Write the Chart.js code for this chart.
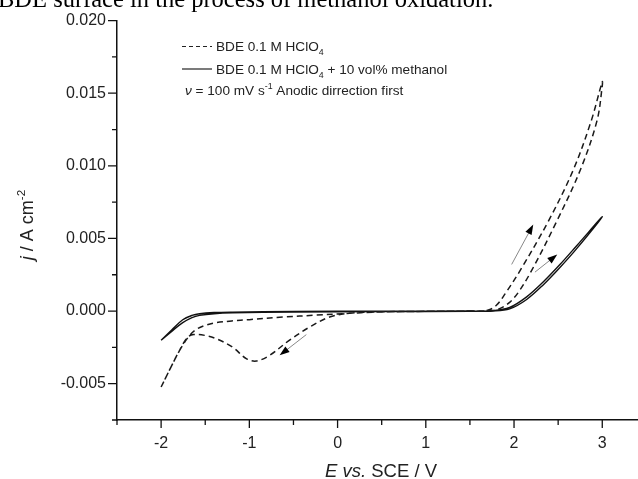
<!DOCTYPE html>
<html>
<head>
<meta charset="utf-8">
<script src="https://cdn.jsdelivr.net/npm/chart.js@4.4.1/dist/chart.umd.min.js"></script>
<style>
  body { margin: 0; background: #fff; }
  canvas { display: block; }
</style>
</head>
<body>
<canvas id="cvChart" width="638" height="479"></canvas>
<script>
// cyclic voltammograms, E in V vs SCE, j in A cm-2
var dashedE = [-2.0, -1.9, -1.79, -1.68, -1.6, -1.5, -1.376, -1.2, -1.0, -0.62, -0.24, 0.14, 0.5, 1.0, 1.5, 1.7, 1.8, 1.9, 2.07, 2.39, 2.67, 2.875, 3.0,
               3.0, 2.94, 2.75, 2.485, 2.2, 2.05, 1.95, 1.85, 1.75, 1.5, 1.0, 0.5, 0.14, -0.09, -0.317, -0.544, -0.771, -0.922, -1.035, -1.191, -1.376, -1.5, -1.63, -1.7, -1.79, -1.9, -2.0];
var dashedJ = [-0.00523, -0.0040, -0.0027, -0.0017, -0.00125, -0.00098, -0.0008, -0.00068, -0.00059, -0.00041, -0.00028, -0.00015, -0.00006, -0.00002, 0.0, 0.00005, 0.0004, 0.0012, 0.0028, 0.0062, 0.0097, 0.0131, 0.0158,
               0.0155, 0.0131, 0.0097, 0.0062, 0.0028, 0.0013, 0.0006, 0.0002, 0.00003, 0.0, -0.00002, -0.00005, -0.00014, -0.00041, -0.0011, -0.0020, -0.00305, -0.00344, -0.00327, -0.00248, -0.0019, -0.00168, -0.00162, -0.0018, -0.0027, -0.0040, -0.00523];

var solidE = [-2.0, -1.88, -1.755, -1.65, -1.565, -1.4, -1.19, -0.5, 0.5, 1.5, 1.76, 1.95, 2.143, 2.33, 2.52, 2.71, 3.0,
              2.71, 2.52, 2.33, 2.143, 1.95, 1.76, 1.5, 0.5, -0.5, -1.19, -1.4, -1.565, -1.65, -1.755, -1.88, -2.0];
var solidJ = [-0.00201, -0.0013, -0.0006, -0.0003, -0.00018, -0.0001, -0.00007, -0.00003, -0.00001, 0.0, 0.00003, 0.00025, 0.00098, 0.0020, 0.0032, 0.0045, 0.0065,
              0.0043, 0.0030, 0.0018, 0.0008, 0.00015, 0.0, -0.00002, -0.00004, -0.00006, -0.00012, -0.00018, -0.0003, -0.00045, -0.0008, -0.0014, -0.00201];

// scan direction arrows
var arrowFromE = [-0.354, 1.973, 2.237];
var arrowFromJ = [-0.00162, 0.00321, 0.00268];
var arrowToE = [-0.657, 2.218, 2.49];
var arrowToJ = [-0.00305, 0.00596, 0.0039];

var xMajor = [-2, -1, 0, 1, 2, 3];
var xMinor = [-2.5, -1.5, -0.5, 0.5, 1.5, 2.5];
var yMajor = [-0.005, 0, 0.005, 0.010, 0.015, 0.020];
var yMinor = [-0.0075, -0.0025, 0.0025, 0.0075, 0.0125, 0.0175];

var caption = 'BDE surface in the process of methanol oxidation.';
var legendLines = [
    [['BDE 0.1 M HClO', 'n'], ['4', 'sub']],
    [['BDE 0.1 M HClO', 'n'], ['4', 'sub'], [' + 10 vol% methanol', 'n']],
    [['\u03bd', 'i'], [' = 100 mV s', 'n'], ['-1', 'sup'], [' Anodic dirrection first', 'n']]
];
var xTitle = [['E', 'i'], [' vs.', 'i'], [' SCE / V', 'n']];
var yTitle = [['j', 'i'], [' / A cm', 'n'], ['-2', 'sup']];

function toPoints(xs, ys) {
    return xs.map(function (x, i) { return { x: x, y: ys[i] }; });
}

function segFont(style, size) {
    var s = (style === 'sub' || style === 'sup') ? size * 0.65 : size;
    return (style === 'i' ? 'italic ' : '') + s + 'px "Liberation Sans"';
}

function richWidth(ctx, segs, size) {
    var w = 0;
    segs.forEach(function (sg) { ctx.font = segFont(sg[1], size); w += ctx.measureText(sg[0]).width; });
    return w;
}

function drawRich(ctx, segs, x, y, size) {
    ctx.textBaseline = 'alphabetic';
    ctx.textAlign = 'left';
    segs.forEach(function (sg) {
        ctx.font = segFont(sg[1], size);
        var dy = sg[1] === 'sub' ? size * 0.3 : (sg[1] === 'sup' ? -size * 0.45 : 0);
        ctx.fillText(sg[0], x, y + dy);
        x += ctx.measureText(sg[0]).width;
    });
}

var decorations = {
    id: 'decorations',
    afterDraw: function (chart) {
        var ctx = chart.ctx, xs = chart.scales.x, ys = chart.scales.y, area = chart.chartArea;
        ctx.save();
        ctx.strokeStyle = '#111';
        ctx.fillStyle = '#111';
        ctx.lineWidth = 1.3;

        // tick marks, outward
        ctx.beginPath();
        xMajor.forEach(function (v) { var p = xs.getPixelForValue(v); ctx.moveTo(p, area.bottom); ctx.lineTo(p, area.bottom + 8); });
        xMinor.forEach(function (v) { var p = xs.getPixelForValue(v); ctx.moveTo(p, area.bottom); ctx.lineTo(p, area.bottom + 5); });
        yMajor.forEach(function (v) { var p = ys.getPixelForValue(v); ctx.moveTo(area.left, p); ctx.lineTo(area.left - 9, p); });
        yMinor.forEach(function (v) { var p = ys.getPixelForValue(v); ctx.moveTo(area.left, p); ctx.lineTo(area.left - 5, p); });
        ctx.stroke();

        // arrows
        for (var i = 0; i < arrowFromE.length; i++) {
            var x0 = xs.getPixelForValue(arrowFromE[i]), y0 = ys.getPixelForValue(arrowFromJ[i]);
            var x1 = xs.getPixelForValue(arrowToE[i]), y1 = ys.getPixelForValue(arrowToJ[i]);
            var a = Math.atan2(y1 - y0, x1 - x0);
            ctx.strokeStyle = '#888';
            ctx.lineWidth = 1;
            ctx.beginPath(); ctx.moveTo(x0, y0); ctx.lineTo(x1 - 8 * Math.cos(a), y1 - 8 * Math.sin(a)); ctx.stroke();
            ctx.fillStyle = '#000';
            ctx.beginPath();
            ctx.moveTo(x1, y1);
            ctx.lineTo(x1 - 10 * Math.cos(a) + 3.5 * Math.sin(a), y1 - 10 * Math.sin(a) - 3.5 * Math.cos(a));
            ctx.lineTo(x1 - 10 * Math.cos(a) - 3.5 * Math.sin(a), y1 - 10 * Math.sin(a) + 3.5 * Math.cos(a));
            ctx.closePath();
            ctx.fill();
        }

        // legend
        ctx.strokeStyle = '#222';
        ctx.lineWidth = 1.2;
        ctx.setLineDash([4, 3]);
        ctx.beginPath(); ctx.moveTo(182, 46.5); ctx.lineTo(212, 46.5); ctx.stroke();
        ctx.setLineDash([]);
        ctx.beginPath(); ctx.moveTo(182, 69); ctx.lineTo(212, 69); ctx.stroke();
        ctx.fillStyle = '#222';
        drawRich(ctx, legendLines[0], 216, 51, 13.6);
        drawRich(ctx, legendLines[1], 216, 73.5, 13.6);
        drawRich(ctx, legendLines[2], 185, 95, 13.6);

        // axis titles
        var tw = richWidth(ctx, xTitle, 18.5);
        drawRich(ctx, xTitle, 381 - tw / 2, 477, 18.5);
        ctx.save();
        ctx.translate(33, 225);
        ctx.rotate(-Math.PI / 2);
        tw = richWidth(ctx, yTitle, 18);
        drawRich(ctx, yTitle, -tw / 2, 0, 18);
        ctx.restore();

        // caption line from the page above, cut at the top
        ctx.fillStyle = '#000';
        ctx.font = '24.5px "Liberation Serif"';
        ctx.textAlign = 'left';
        ctx.textBaseline = 'alphabetic';
        ctx.fillText(caption, -2, 7);
        ctx.restore();
    }
};

var ctx1 = document.getElementById('cvChart').getContext('2d');
var cvChart = new Chart(ctx1, {
    type: 'scatter',
    data: {
        datasets: [{
            label: 'BDE 0.1 M HClO4',
            data: toPoints(dashedE, dashedJ),
            showLine: true,
            borderColor: '#1a1a1a',
            borderWidth: 1.5,
            borderDash: [6, 4],
            pointRadius: 0,
            tension: 0.35
        }, {
            label: 'BDE 0.1 M HClO4 + 10 vol% methanol',
            data: toPoints(solidE, solidJ),
            showLine: true,
            borderColor: '#111',
            borderWidth: 1.4,
            pointRadius: 0,
            tension: 0.35
        }]
    },
    options: {
        responsive: false,
        animation: false,
        layout: { padding: { top: 20, right: 0, bottom: 0, left: 0 } },
        plugins: { legend: { display: false }, tooltip: { enabled: false } },
        scales: {
            x: {
                type: 'linear',
                min: -2.5,
                max: 3.405,
                afterBuildTicks: function (s) { s.ticks = xMajor.map(function (v) { return { value: v }; }); },
                afterFit: function (s) { s.height = 59; },
                grid: { display: false, drawTicks: false },
                border: { display: true, color: '#111', width: 1.5 },
                ticks: {
                    color: '#222',
                    padding: 14,
                    maxRotation: 0,
                    autoSkip: false,
                    font: { family: 'Liberation Sans', size: 16 },
                    callback: function (value) { return String(value); }
                }
            },
            y: {
                type: 'linear',
                min: -0.0075,
                max: 0.02,
                afterBuildTicks: function (s) { s.ticks = yMajor.map(function (v) { return { value: v }; }); },
                afterFit: function (s) { s.width = 117; },
                grid: { display: false, drawTicks: false },
                border: { display: true, color: '#111', width: 1.5 },
                ticks: {
                    color: '#222',
                    padding: 11,
                    autoSkip: false,
                    font: { family: 'Liberation Sans', size: 16 },
                    callback: function (value) { return value.toFixed(3); }
                }
            }
        }
    },
    plugins: [decorations]
});
</script>
</body>
</html>
